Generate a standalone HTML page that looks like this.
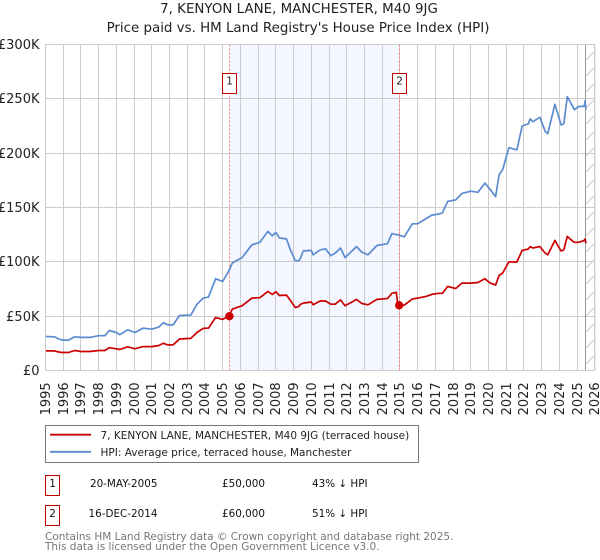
<!DOCTYPE html>
<html>
<head>
<meta charset="utf-8">
<title>7, Kenyon Lane price chart</title>
<style>
html,body{margin:0;padding:0;background:#fff;}
svg{display:block;font-family:"DejaVu Sans","Liberation Sans",sans-serif;}
</style>
</head>
<body>
<svg id="chart" width="600" height="560" viewBox="0 0 600 560" xmlns="http://www.w3.org/2000/svg">
  <defs>
    <pattern id="hatch" width="16" height="16" patternUnits="userSpaceOnUse" patternTransform="translate(586 44)">
      <path d="M-2 18 L18 -2" stroke="#cccccc" stroke-width="1" fill="none"/>
    </pattern>
  </defs>
  <text x="299" y="13" font-size="13.4" text-anchor="middle" fill="#222">7, KENYON LANE, MANCHESTER, M40 9JG</text>
  <text x="298" y="32" font-size="13.4" text-anchor="middle" fill="#222">Price paid vs. HM Land Registry's House Price Index (HPI)</text>
  <g id="plot"></g>

  <rect x="45.5" y="425.5" width="373" height="37" fill="#fff" stroke="#777" stroke-width="1"/>
  <line x1="50" x2="91" y1="434.7" y2="434.7" stroke="#cc0000" stroke-width="1.8"/>
  <text x="100.5" y="439" font-size="10.5" fill="#222">7, KENYON LANE, MANCHESTER, M40 9JG (terraced house)</text>
  <line x1="50" x2="91" y1="451.8" y2="451.8" stroke="#5b8bd0" stroke-width="1.8"/>
  <text x="100.5" y="456" font-size="10.5" fill="#222">HPI: Average price, terraced house, Manchester</text>

  <g font-size="10.4" fill="#111">
    <rect x="45.5" y="475.5" width="14" height="20" fill="#fff" stroke="#c00000" stroke-width="1"/>
    <text x="52.5" y="487" text-anchor="middle">1</text>
    <text x="157.5" y="487" text-anchor="end">20-MAY-2005</text>
    <text x="222" y="487">£50,000</text>
    <text x="312" y="487">43% ↓ HPI</text>
  </g>
  <g font-size="10.4" fill="#111">
    <rect x="45.5" y="505.5" width="14" height="20" fill="#fff" stroke="#c00000" stroke-width="1"/>
    <text x="52.5" y="517" text-anchor="middle">2</text>
    <text x="157.5" y="517" text-anchor="end">16-DEC-2014</text>
    <text x="222" y="517">£60,000</text>
    <text x="312" y="517">51% ↓ HPI</text>
  </g>
  <text x="45" y="540" font-size="10.5" fill="#777">Contains HM Land Registry data © Crown copyright and database right 2025.</text>
  <text x="45" y="550" font-size="10.5" fill="#777">This data is licensed under the Open Government Licence v3.0.</text>
</svg>
<script>
var yearTicks = [1995,1996,1997,1998,1999,2000,2001,2002,2003,2004,2005,2006,2007,2008,2009,2010,2011,2012,2013,2014,2015,2016,2017,2018,2019,2020,2021,2022,2023,2024,2025,2026];
var valueTicks = [0,50,100,150,200,250,300];
var valueTickLabels = ["£0","£50K","£100K","£150K","£200K","£250K","£300K"];
var saleLabels = ["1","2"];
var saleDates = [2005.38,2014.96];
var saleValues = [50,60];
var dataEnd = 2025.5;

var dates = [
  1995,1995.5,1995.75,1995.95,1996.3,1996.65,1997,1997.5,1998,1998.35,
  1998.6,1999,1999.2,1999.64,2000.05,2000.5,2001,2001.4,2001.65,2001.9,
  2002.2,2002.56,2003.2,2003.55,2003.9,2004.2,2004.6,2005,2005.33,2005.55,
  2006.1,2006.65,2007.1,2007.55,2007.8,2008,2008.2,2008.6,2008.8,2009.1,
  2009.3,2009.38,2009.55,2010,2010.1,2010.5,2010.8,2011.1,2011.35,2011.65,
  2011.9,2012.3,2012.55,2012.85,2013.2,2013.7,2014.3,2014.55,2014.8,2014.88,
  2014.97,2015.25,2015.7,2016,2016.45,2016.8,2017.2,2017.4,2017.7,2018.15,
  2018.5,2019,2019.4,2019.8,2020.1,2020.4,2020.6,2020.8,2021.15,2021.6,
  2021.9,2022.25,2022.35,2022.5,2022.9,2023.2,2023.35,2023.75,2024.1,2024.25,
  2024.45,2024.75,2024.85,2025.1,2025.4,2025.45,2025.5
];

var hpiValues = [
  31.3,31,29,28,28,31,30.5,30.5,32,32,
  36.8,35,33,37.5,35,39,38,40,44,42,
  42,50.6,51,61,66.6,67.5,84.4,82,91,99,
  104,115.7,118,128,124,127,122,121,112,101,
  101,103,110,110.5,106.5,111,112,105.6,108,112.7,
  104,110,114,109,106.5,115,116.7,126,125,125,
  124.4,123,135,135,139.5,143,144,145,155.7,157,
  163,165,164,172.5,166.4,160,180,185,205,203,
  225,227,231.5,229,233,220,218,245,226,227,
  252,243,240,243,243,248,240
];

var propertyValues = [
  18,18,17,16.6,16.6,18.4,17.5,17.5,18.4,18.4,
  21,20,19.3,21.8,20,22,22,23,25,23.6,
  23.6,29,29.5,35,38.7,39,48.8,47,50,56.5,
  59.6,66.6,67,72.8,70,72.5,69,69.4,65,58,
  59,60.8,62,63,60.5,64,64,61,61,65,
  59.6,63,65.4,61.7,60.5,65.4,66.3,71,72,60.5,
  60,60.2,65.7,66.6,68,70,71,71,77.4,75.5,
  80.4,80.4,81,84.4,80.4,78.6,87.5,89.7,100,99.8,
  110.5,111.8,114,112.7,114,108,106.5,119.7,110,111,
  123.4,119,118,118,119.7,121,117
];

var NS = "http://www.w3.org/2000/svg";
var plot = document.getElementById("plot");
var plotLeft = 45.5, plotRight = 594.8, plotTop = 44.5, plotBottom = 370.5;
function xScale(year){ return plotLeft + (year - 1995) * (plotRight - plotLeft) / 31; }
function yScale(v){ return plotBottom - v * (plotBottom - plotTop) / 300; }
function make(tag, attrs, parent){
  var el = document.createElementNS(NS, tag);
  for (var k in attrs) el.setAttribute(k, attrs[k]);
  (parent || plot).appendChild(el);
  return el;
}
function snap(p){ return Math.round(p - 0.5) + 0.5; }

var shade = make("rect", {x:xScale(saleDates[0]), y:plotTop, width:xScale(saleDates[1]) - xScale(saleDates[0]), height:plotBottom - plotTop, fill:"#f4f7ff"});



var hatch = make("rect", {x:xScale(dataEnd), y:plotTop, width:plotRight - xScale(dataEnd), height:plotBottom - plotTop, fill:"url(#hatch)"});



yearTicks.forEach(function(yr){
  var px = snap(xScale(yr));
  var g = make("line", {x1:px, x2:px, y1:plotTop, y2:plotBottom, stroke:"#cccccc", "stroke-width":1});
  
  
  var t = make("text", {x:0, y:0, "font-size":13, fill:"#222", "text-anchor":"end", transform:"translate(" + (px + 4.7) + " 382.3) rotate(-90)"});
  t.textContent = yr;
  
  
});
valueTicks.forEach(function(v, i){
  var py = snap(yScale(v));
  var g = make("line", {x1:plotLeft, x2:plotRight, y1:py, y2:py, stroke:"#cccccc", "stroke-width":1});
  
  
  var t = make("text", {x:39.5, y:py + 4.5, "font-size":13, fill:"#222", "text-anchor":"end"});
  t.textContent = valueTickLabels[i];
  
  
});

var endLine = make("line", {x1:snap(xScale(dataEnd)), x2:snap(xScale(dataEnd)), y1:plotTop, y2:plotBottom, stroke:"#999999", "stroke-width":1});



saleDates.forEach(function(d){
  var sx = snap(xScale(d));
  var v = make("line", {x1:sx, x2:sx, y1:plotTop, y2:plotBottom, stroke:"#ff7777", "stroke-width":1, "stroke-dasharray":"2 2"});
  
  
});

function seriesPath(values){
  var d = "";
  for (var i = 0; i < values.length && i < dates.length; i++){
    d += (i ? "L" : "M") + xScale(dates[i]).toFixed(1) + " " + yScale(values[i]).toFixed(1);
  }
  return d;
}
var hpiLine = make("path", {d:seriesPath(hpiValues), fill:"none", stroke:"#5b8bd0", "stroke-width":1.7, "stroke-linejoin":"round"});


var propLine = make("path", {d:seriesPath(propertyValues), fill:"none", stroke:"#cc0000", "stroke-width":1.7, "stroke-linejoin":"round"});



saleDates.forEach(function(d, i){
  var dot = make("circle", {cx:xScale(d), cy:yScale(saleValues[i]), r:4.2, fill:"#cc0000"});
  
  
  var cx = snap(xScale(d));
  var box = make("rect", {x:cx - 7, y:73.5, width:14, height:20, fill:"#fff", stroke:"#c00000", "stroke-width":1});
  
  
  var t = make("text", {x:cx, y:84.5, "font-size":10.4, fill:"#222", "text-anchor":"middle"});
  t.textContent = saleLabels[i];
  
  
});

var frame = make("rect", {x:plotLeft, y:plotTop, width:plotRight - plotLeft, height:plotBottom - plotTop, fill:"none", stroke:"#cccccc", "stroke-width":1});


</script>
</body>
</html>
